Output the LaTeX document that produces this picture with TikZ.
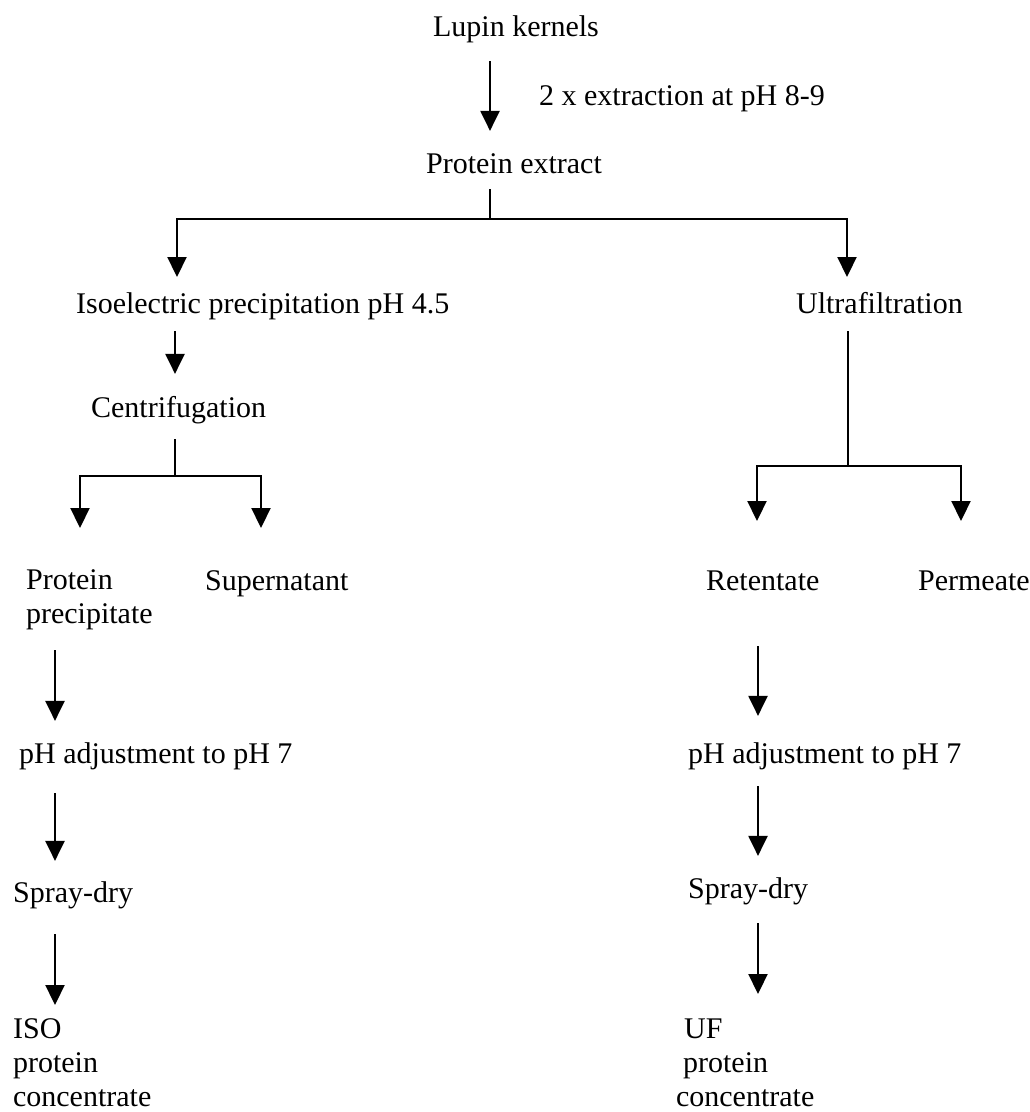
\documentclass[tikz,border=0pt]{standalone}
\usepackage{fontspec}
\setmainfont{Liberation Serif}
\usetikzlibrary{arrows.meta}

\begin{document}
\begin{tikzpicture}[x=1pt, y=-1pt, line width=2.2pt,
  every node/.style={font=\fontsize{30}{34}\selectfont, inner sep=0pt},
  lbl/.style={anchor=base west, text height=21pt, text depth=7pt},
  stack/.style={anchor=north west, align=left},
  flow/.style={-{Triangle[width=19pt,length=20pt]}}]
\useasboundingbox (0,0) rectangle (1030,1112);

% Extraction
\node[lbl] (lupin) at (432,36) {Lupin kernels};
\node[lbl] (note) at (538,105) {2 x extraction at pH 8-9};
\node[lbl] (extract) at (425,173) {Protein extract};
\coordinate (j1) at (490,219);
\coordinate (l1) at (177,277);
\coordinate (r1) at (847,277);
\draw[flow, shorten <=17pt, shorten >=20pt] (lupin.south -| j1) -- (extract.north -| j1);
\draw[shorten <=8pt] (extract.south -| j1) -- (j1);
\draw[flow] (j1) -| (l1);
\draw[flow] (j1) -| (r1);

% Isoelectric branch
\node[lbl] (iso) at (75,313) {Isoelectric precipitation pH 4.5};
\node[lbl] (centri) at (90,417) {Centrifugation};
\coordinate (j2) at (175,476);
\coordinate (p1) at (80,528);
\coordinate (s1) at (261,528);
\draw[flow, shorten <=10pt, shorten >=21pt] (iso.south -| j2) -- (centri.north -| j2);
\draw[shorten <=14pt] (centri.south -| j2) -- (j2);
\draw[flow] (j2) -| (p1);
\draw[flow] (j2) -| (s1);
\node[stack] (precip) at (25,569) {Protein\\precipitate};
\node[lbl] (super) at (204,590) {Supernatant};

% Ultrafiltration branch
\node[lbl] (uf) at (795,313) {Ultrafiltration};
\coordinate (j3) at (848,466);
\coordinate (rt1) at (757,521);
\coordinate (pm1) at (961,521);
\draw[shorten <=10pt] (uf.south -| j3) -- (j3);
\draw[flow] (j3) -| (rt1);
\draw[flow] (j3) -| (pm1);
\node[lbl] (retent) at (705,590) {Retentate};
\node[lbl] (perm) at (917,590) {Permeate};

% Left chain
\coordinate (lcol) at (55,640);
\node[lbl] (phl) at (18,763) {pH adjustment to pH 7};
\node[lbl] (dryl) at (12,902) {Spray-dry};
\node[stack] (isoc) at (12,1018) {ISO\\protein\\concentrate};
\draw[flow, shorten <=19pt, shorten >=20pt] (precip.south -| lcol) -- (phl.north -| lcol);
\draw[flow, shorten <=22pt, shorten >=19pt] (phl.south -| lcol) -- (dryl.north -| lcol);
\draw[flow, shorten <=24pt, shorten >=13pt] (dryl.south -| lcol) -- (isoc.north -| lcol);

% Right chain
\coordinate (rcol) at (758,640);
\node[lbl] (phr) at (687,763) {pH adjustment to pH 7};
\node[lbl] (dryr) at (687,898) {Spray-dry};
\node[stack] (ufc) at (675,1018) {\hspace*{8pt}UF\\\hspace*{7pt}protein\\concentrate};
\draw[flow, shorten <=48pt, shorten >=25pt] (retent.south -| rcol) -- (phr.north -| rcol);
\draw[flow, shorten <=15pt, shorten >=20pt] (phr.south -| rcol) -- (dryr.north -| rcol);
\draw[flow, shorten <=17pt, shorten >=24pt] (dryr.south -| rcol) -- (ufc.north -| rcol);

\end{tikzpicture}
\end{document}
